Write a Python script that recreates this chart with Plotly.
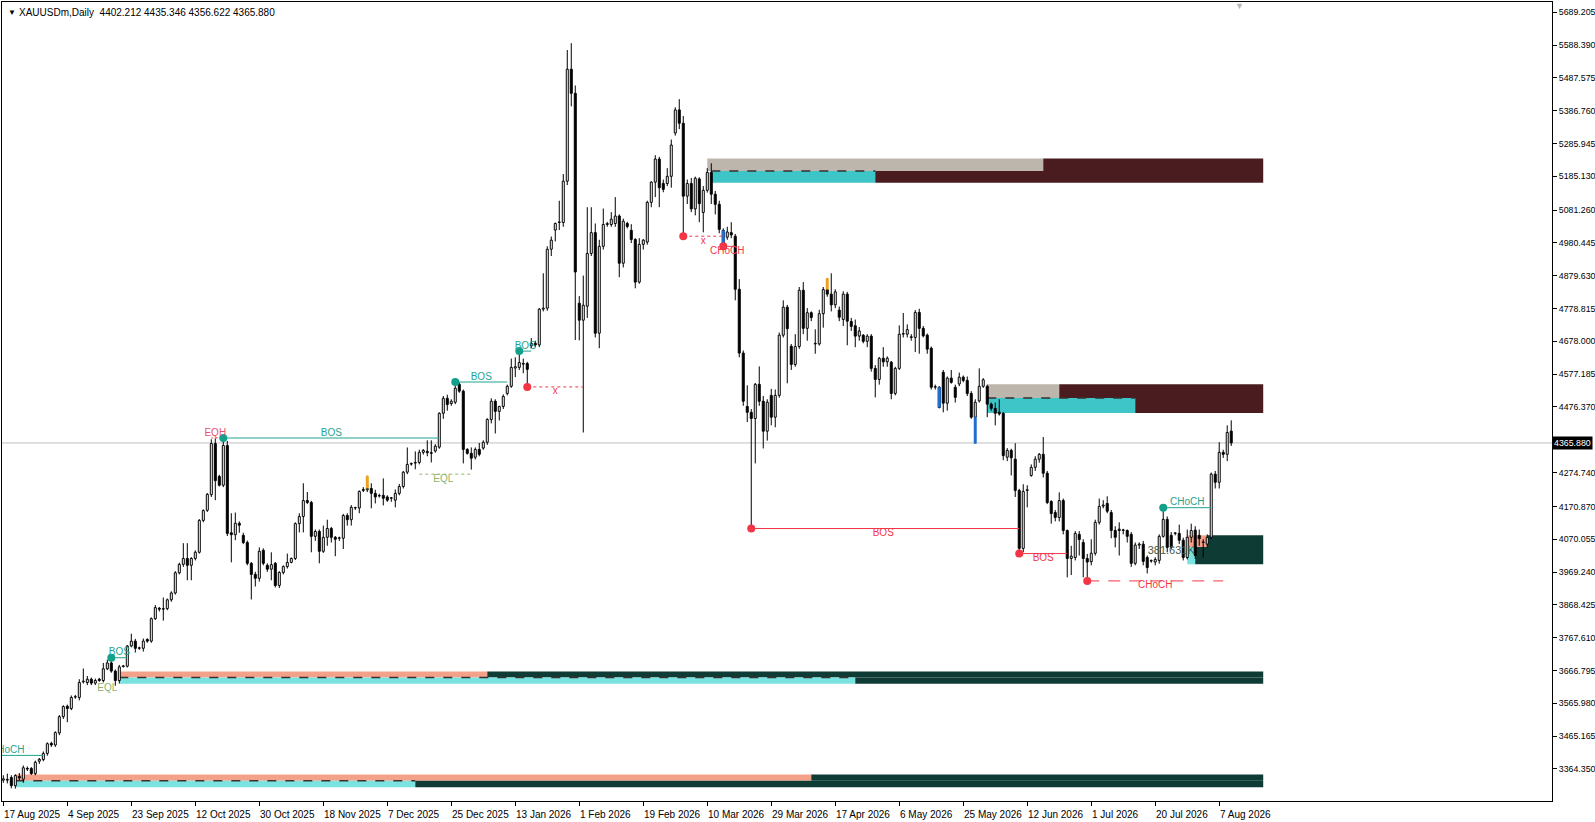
import plotly.graph_objects as go

# ---------------- data ----------------
opens = [3330,3332,3338,3313,3341,3333,3366,3366,3350,3388,3393,3412,3443,3438,3475,3525,3557,3550,3585,3584,
         3632,3630,3640,3628,3640,3636,3672,3690,3665,3636,3679,3680,3742,3757,3735,3735,3762,3757,3826,3858,
         3855,3857,3884,3905,3967,3993,4011,3990,4011,4030,4128,4159,4207,4364,4263,4236,4358,4090,4084,4119,
         4082,4060,3996,3962,3950,4036,3990,3978,3996,3928,3968,3986,3999,4011,4118,4140,4189,4183,4079,4094,
         4033,4076,4103,4076,4073,4073,4143,4130,4166,4166,4220,4222,4226,4211,4203,4205,4200,4196,4190,4211,
         4232,4276,4301,4304,4306,4337,4340,4336,4341,4353,4457,4503,4487,4491,4546,4525,4346,4334,4322,4346,
         4350,4368,4438,4494,4463,4478,4518,4540,4596,4598,4610,4610,4664,4672,4667,4777,4780,4961,5020,5043,
         5043,5170,5514,5440,4795,4743,4786,4948,5012,4703,4970,5037,5037,5040,5063,4918,5040,5019,4991,4860,
         4976,4983,5105,5167,5238,5163,5163,5185,5318,5389,5348,5124,5163,5085,5177,5074,5142,5197,5130,5099,
         5019,4998,5012,5001,4838,4642,4478,4460,4441,4546,4494,4402,4512,4445,4512,4697,4783,4663,4607,4662,
         4835,4718,4766,4670,4670,4763,4837,4823,4790,4774,4745,4823,4739,4726,4694,4697,4678,4694,4595,4561,
         4626,4615,4614,4518,4595,4700,4700,4692,4690,4767,4718,4697,4657,4537,4537,4583,4488,4565,4537,4547,
         4568,4558,4518,4445,4495,4540,4540,4485,4472,4460,4457,4322,4343,4316,4220,4042,4220,4266,4291,4316,
         4331,4273,4186,4152,4137,4189,4097,4011,4014,4085,4060,4011,4001,4027,4122,4172,4180,4152,4097,4101,
         4097,4097,4085,3996,4052,4055,4014,4003,4000,4005,4079,4131,4082,4088,4088,4067,4014,4076,4098,4082,
         4060,4055,4076,4270,4245,4337,4331,4402.212]
highs = [3345,3350,3345,3348,3352,3375,3372,3370,3390,3398,3418,3446,3448,3480,3530,3560,3562,3590,3592,3640,
         3673,3650,3645,3642,3644,3690,3700,3707,3670,3684,3684,3745,3780,3764,3740,3765,3766,3830,3868,3862,
         3891,3888,3910,3972,3998,4058,4058,4015,4036,4132,4162,4212,4377,4380,4268,4381,4372,4150,4152,4125,
         4090,4066,4000,3970,4045,4042,3996,4030,4000,3972,3990,4026,4014,4122,4150,4242,4215,4188,4100,4100,
         4112,4130,4108,4080,4078,4148,4150,4175,4170,4220,4230,4265,4242,4222,4210,4257,4205,4200,4223,4240,
         4280,4352,4306,4340,4345,4347,4374,4374,4362,4460,4510,4514,4500,4553,4552,4530,4350,4352,4352,4366,
         4374,4442,4503,4500,4480,4515,4545,4625,4629,4648,4625,4615,4688,4680,4780,4887,4970,5000,5043,5110,
         5192,5573,5594,5464,4817,4880,5090,5090,5040,4990,5086,5045,5075,5121,5068,5055,5045,5038,4995,4995,
         4992,5110,5170,5250,5245,5175,5210,5298,5397,5422,5370,5175,5180,5184,5182,5155,5210,5225,5140,5110,
         5025,5030,5044,5008,4869,4650,4543,4470,4550,4601,4510,4500,4532,4530,4705,4804,4790,4670,4700,4845,
         4860,4780,4770,4715,4775,4845,4872,4887,4838,4785,4832,4830,4750,4745,4722,4700,4700,4700,4605,4630,
         4660,4632,4618,4600,4727,4765,4730,4700,4774,4778,4725,4702,4662,4545,4540,4590,4570,4590,4545,4582,
         4573,4570,4525,4500,4595,4565,4545,4490,4490,4500,4460,4350,4348,4365,4225,4239,4236,4300,4325,4335,
         4384,4280,4190,4160,4214,4195,4100,4050,4095,4095,4070,4025,4070,4130,4195,4190,4202,4160,4110,4122,
         4102,4100,4092,4060,4060,4065,4020,4008,4015,4085,4168,4140,4092,4092,4115,4075,4100,4118,4110,4100,
         4070,4085,4275,4280,4368,4345,4420,4435.346]
lows = [3322,3320,3305,3304,3330,3322,3358,3346,3345,3380,3388,3405,3432,3432,3468,3518,3508,3545,3580,3575,
        3627,3622,3622,3622,3632,3630,3668,3660,3620,3627,3676,3676,3738,3722,3730,3725,3752,3752,3822,3848,
        3820,3852,3878,3900,3962,3985,3944,3944,4005,4026,4122,4154,4200,4190,4232,4230,4080,3999,4067,4090,
        4055,3990,3885,3925,3940,3990,3970,3944,3922,3920,3962,3980,3996,4006,4091,4091,4178,4030,4065,3996,
        4028,4050,4060,4018,4065,4040,4112,4112,4160,4150,4215,4215,4165,4180,4198,4174,4185,4185,4168,4205,
        4226,4270,4296,4285,4300,4330,4325,4306,4336,4348,4440,4465,4480,4485,4520,4303,4330,4284,4315,4325,
        4345,4360,4426,4395,4435,4470,4512,4535,4568,4590,4580,4538,4657,4660,4660,4770,4772,4940,4985,5020,
        5030,5158,5400,4682,4681,4398,4750,4940,4690,4657,4960,5030,5030,5030,4875,4905,5025,4980,4841,4855,
        4960,4975,5090,5121,5090,5136,5155,5150,5310,5330,5001,5100,5075,5065,5044,5013,5135,5100,5068,5010,
        4970,4990,4995,4804,4629,4480,4430,4103,4303,4480,4349,4373,4420,4414,4505,4690,4549,4590,4600,4655,
        4700,4680,4740,4640,4665,4720,4815,4770,4780,4740,4725,4666,4710,4660,4680,4672,4660,4585,4506,4545,
        4600,4600,4500,4512,4590,4690,4690,4680,4645,4640,4690,4640,4530,4530,4472,4460,4465,4548,4490,4540,
        4552,4510,4440,4364,4490,4535,4445,4465,4420,4450,4313,4310,4266,4200,4026,4030,4168,4262,4280,4305,
        4260,4178,4118,4125,4125,4085,3953,3960,4005,4020,3953,3942,3990,4020,4115,4165,4150,4073,4045,4020,
        4085,4060,3985,3990,4040,3990,3965,3998,3990,3995,4075,4030,4040,4082,4055,4005,4008,4060,4010,4050,
        4014,4045,4070,4226,4226,4320,4310,4356.622]
closes = [3334,3330,3313,3344,3337,3368,3364,3350,3385,3394,3412,3442,3438,3476,3525,3556,3550,3584,3586,3630,
          3634,3640,3628,3636,3636,3672,3690,3665,3636,3678,3681,3742,3757,3735,3736,3757,3757,3826,3860,3855,
          3857,3884,3905,3967,3993,4011,3990,4011,4030,4128,4158,4208,4364,4250,4236,4358,4088,4084,4119,4113,
          4060,3996,3962,3950,4033,3996,3978,3992,3928,3968,3986,3999,4011,4118,4140,4189,4183,4079,4094,4033,
          4076,4103,4076,4070,4073,4143,4130,4168,4166,4217,4223,4226,4211,4200,4203,4196,4190,4196,4211,4232,
          4276,4300,4301,4306,4337,4343,4336,4334,4356,4457,4503,4484,4494,4534,4525,4346,4334,4319,4346,4331,
          4368,4438,4494,4463,4478,4509,4540,4598,4600,4613,4608,4592,4672,4667,4777,4780,4961,4989,5040,5045,
          5170,5514,5440,4891,4743,4789,4948,5012,4703,4970,5037,5040,5053,5063,4918,5047,5031,4991,4860,4976,
          4989,5105,5167,5238,5150,5145,5185,5281,5389,5348,5124,5163,5085,5179,5101,5142,5197,5130,5099,5022,
          4979,5014,5005,4838,4642,4494,4460,4441,4546,4494,4402,4491,4445,4512,4697,4783,4717,4607,4662,4835,
          4718,4766,4751,4672,4763,4837,4823,4790,4830,4752,4823,4740,4724,4694,4710,4678,4694,4595,4561,4626,
          4615,4626,4518,4595,4700,4702,4714,4690,4767,4718,4695,4654,4537,4539,4475,4488,4565,4552,4506,4568,
          4558,4518,4445,4491,4540,4560,4485,4472,4457,4455,4327,4343,4320,4220,4042,4217,4222,4291,4316,4331,
          4273,4183,4149,4137,4189,4097,4011,4018,4088,4069,4011,4000,4027,4122,4171,4175,4156,4097,4076,4097,
          4099,4079,3996,4052,4055,4002,3983,4003,4008,4079,4131,4045,4045,4088,4067,4014,4076,4097,4020,4072,
          4062,4076,4270,4245,4337,4331,4398,4365.880]

date_ticks = [0,16,32,48,64,80,96,112,128,144,160,176,192,208,224,240,256,272,288,304]
date_labels = ["17 Aug 2025","4 Sep 2025","23 Sep 2025","12 Oct 2025","30 Oct 2025","18 Nov 2025",
               "7 Dec 2025","25 Dec 2025","13 Jan 2026","1 Feb 2026","19 Feb 2026","10 Mar 2026",
               "29 Mar 2026","17 Apr 2026","6 May 2026","25 May 2026","12 Jun 2026","1 Jul 2026",
               "20 Jul 2026","7 Aug 2026"]
price_ticks = [5689.205,5588.390,5487.575,5386.760,5285.945,5185.130,5081.260,4980.445,4879.630,
               4778.815,4678.000,4577.185,4476.370,4274.740,4170.870,4070.055,3969.240,3868.425,
               3767.610,3666.795,3565.980,3465.165,3364.350,3263.535]
current_price = 4365.880
title_text = "XAUUSDm,Daily  4402.212 4435.346 4356.622 4365.880"

# highlighted candles (price segments)
orange_idx = [91, 206]
orange_lo = [4226, 4837]
orange_hi = [4265, 4872]
blue_idx = [180, 234, 243]
blue_lo = [4979, 4475, 4364]
blue_hi = [5019, 4537, 4445]

# supply / demand zones
zone_x0 = [176, 260, 177, 218, 246, 264, 246, 283, 296, 301, 296, 298, 29, 121, 29, 213, 3, 202, 3, 103]
zone_x1 = [260, 315, 218, 315, 264, 315, 283, 315, 301, 315, 298, 315, 121, 315, 213, 315, 202, 315, 103, 315]
zone_y0 = [5201, 5201, 5165, 5165, 4504, 4504, 4458, 4458, 4046, 4046, 3993, 3993, 3645, 3645, 3626, 3626, 3328, 3328, 3308, 3308]
zone_y1 = [5240, 5240, 5201, 5201, 4546, 4546, 4504, 4504, 4082, 4082, 4046, 4046, 3664, 3664, 3645, 3645, 3347, 3347, 3328, 3328]
zone_kind = ["gray","maroon","cyan","maroon","gray","maroon","cyan","maroon",
             "salmon","dkgreen","lcyan","dkgreen","salmon","dkgreen","lcyan","dkgreen",
             "salmon","dkgreen","lcyan","dkgreen"]
mid_x0 = [177, 246, 29, 3]
mid_x1 = [218, 283, 213, 103]
mid_y = [5201, 4504, 3645, 3328]

# market structure lines
st_x0 = [52, 55, 113, 129, 131, 170, 180, 187, 254, 271, 290, 27, -8, 104]
st_x1 = [55, 109, 126, 132, 145, 180, 183, 254, 266, 305, 302, 31, 10, 117]
st_y = [4381, 4381, 4553, 4648, 4538, 5001, 4970, 4103, 4026, 3942, 4167, 3706, 3406, 4270]
st_kind = ["eqh","bull","bull","bull","bearx","bearx","bear","bear","bear","bearlong","bull","bull","bull","eql"]
lab_text = ["EQH","BOS","BOS","BOS","x","x","CHoCH","BOS","BOS","CHoCH","CHoCH","BOS","CHoCH","EQL","EQL"]
lab_x = [53, 82, 119.5, 130.5, 138, 175, 181, 220, 260, 288, 296, 29, 1, 110, 26]
lab_y = [4381, 4381, 4553, 4648, 4538, 5001, 4970, 4103, 4026, 3942, 4167, 3706, 3406, 4270, 3627]
lab_kind = ["eqh","bull","bull","bull","bear","bear","bear","bear","bear","bear","bull","bull","bull","eql","eql"]
lab_pos = ["top","top","top","top","bottom","bottom","bottom","bottom","bottom","bottom","top","top","top","bottom","bottom"]
dot_x = [55, 113, 129, 27, 290, 131, 170, 180, 187, 254, 271]
dot_y = [4381, 4553, 4648, 3706, 4167, 4538, 5001, 4970, 4103, 4026, 3942]
dot_kind = ["bull","bull","bull","bull","bull","bear","bear","bear","bear","bear","bear"]
vol_text = "381.631K"
vol_x, vol_y = 292, 4034

# ---------------- styles ----------------
FONT = "Liberation Sans"
C_TEAL = "#1fa391"
C_RED = "#f23645"
C_PINK = "#e8506a"
C_OLIVE = "#8fb36a"
zone_colors = {"gray": "#bdb6ac", "maroon": "#4a1c20", "cyan": "#3ec5c8", "salmon": "#f3a189",
               "dkgreen": "#0f3b35", "lcyan": "#7ae2df"}
st_style = {"eqh": (C_PINK, "2px,2px"), "bull": (C_TEAL, "solid"), "bearx": (C_RED, "3px,3px"),
            "bear": (C_RED, "solid"), "bearlong": (C_RED, "12px,9px"), "eql": (C_OLIVE, "3px,3px")}
lab_color = {"eqh": C_PINK, "bull": C_TEAL, "bear": C_RED, "eql": C_OLIVE}

n = len(closes)
idx = list(range(n))

fig = go.Figure()

# candle bodies
min_h = 1.5
up_x, up_b, up_h, dn_x, dn_b, dn_h = [], [], [], [], [], []
for i in idx:
    o, c = opens[i], closes[i]
    b = min(o, c)
    h = max(abs(c - o), min_h)
    if c >= o:
        up_x.append(i); up_b.append(b); up_h.append(h)
    else:
        dn_x.append(i); dn_b.append(b); dn_h.append(h)

fig.add_trace(go.Bar(x=up_x, base=up_b, y=up_h, width=0.5, marker=dict(color="white", line=dict(color="black", width=1)),
                     hoverinfo="skip", showlegend=False))
fig.add_trace(go.Bar(x=dn_x, base=dn_b, y=dn_h, width=0.5, marker=dict(color="black", line=dict(color="black", width=1)),
                     hoverinfo="skip", showlegend=False))

# wicks (split so they do not cross hollow bodies)
wx, wy = [], []
for i in idx:
    top = max(opens[i], closes[i])
    bot = min(opens[i], closes[i])
    if highs[i] > top:
        wx += [i, i, None]; wy += [top, highs[i], None]
    if lows[i] < bot:
        wx += [i, i, None]; wy += [lows[i], bot, None]
fig.add_trace(go.Scatter(x=wx, y=wy, mode="lines", line=dict(color="black", width=1),
                         hoverinfo="skip", showlegend=False))

# highlighted segments
for xs, lo, hi, col in [(orange_idx, orange_lo, orange_hi, "#f0a020"), (blue_idx, blue_lo, blue_hi, "#1f6fd0")]:
    sx, sy = [], []
    for i, a, b in zip(xs, lo, hi):
        sx += [i, i, None]; sy += [a, b, None]
    fig.add_trace(go.Scatter(x=sx, y=sy, mode="lines", line=dict(color=col, width=3),
                             hoverinfo="skip", showlegend=False))

shapes = []
shapes.append(dict(type="line", xref="paper", x0=0, x1=1, yref="y", y0=current_price, y1=current_price,
                   line=dict(color="#c0c0c0", width=1), layer="below"))
for x0, x1, y0, y1, k in zip(zone_x0, zone_x1, zone_y0, zone_y1, zone_kind):
    shapes.append(dict(type="rect", xref="x", yref="y", x0=x0, x1=x1, y0=y0, y1=y1,
                       fillcolor=zone_colors[k], line=dict(width=0), layer="below"))
for x0, x1, y in zip(mid_x0, mid_x1, mid_y):
    shapes.append(dict(type="line", xref="x", yref="y", x0=x0, x1=x1, y0=y, y1=y,
                       line=dict(color="#3a3030", width=1.5, dash="dash"), layer="below"))

# structure lines
for x0, x1, y, k in zip(st_x0, st_x1, st_y, st_kind):
    col, dash = st_style[k]
    fig.add_trace(go.Scatter(x=[x0, x1], y=[y, y], mode="lines", line=dict(color=col, width=1, dash=dash),
                             hoverinfo="skip", showlegend=False, cliponaxis=True))

# dots
for k, col in [("bull", "#12a08a"), ("bear", C_RED)]:
    xs = [x for x, kk in zip(dot_x, dot_kind) if kk == k]
    ys = [y for y, kk in zip(dot_y, dot_kind) if kk == k]
    fig.add_trace(go.Scatter(x=xs, y=ys, mode="markers", marker=dict(color=col, size=8),
                             hoverinfo="skip", showlegend=False))

# structure labels
for t, x, y, k, p in zip(lab_text, lab_x, lab_y, lab_kind, lab_pos):
    fig.add_trace(go.Scatter(x=[x], y=[y], mode="text", text=[t], textposition=p + " center",
                             textfont=dict(family=FONT, size=10, color=lab_color[k]),
                             hoverinfo="skip", showlegend=False, cliponaxis=True))

fig.add_trace(go.Scatter(x=[vol_x], y=[vol_y], mode="text", text=[vol_text], textposition="middle center",
                         textfont=dict(family=FONT, size=11, color="#4b5a4a"), hoverinfo="skip", showlegend=False))

annotations = []
for t, x in zip(date_labels, date_ticks):
    annotations.append(dict(x=x, xref="x", y=0, yref="paper", text=t, showarrow=False, xanchor="left",
                            yanchor="top", xshift=-1, yshift=-6,
                            font=dict(family=FONT, size=10, color="black")))
annotations.append(dict(x=1, xref="paper", y=current_price, yref="y", text="4365.880", showarrow=False,
                        xanchor="left", yanchor="middle", xshift=0, bgcolor="black",
                        font=dict(family=FONT, size=8.8, color="white"), borderpad=1))
annotations.append(dict(x=0, xref="paper", y=1, yref="paper", text="▼", showarrow=False, xanchor="left",
                        yanchor="top", xshift=4, yshift=-4, font=dict(family=FONT, size=8, color="black")))
annotations.append(dict(x=0, xref="paper", y=1, yref="paper", text=title_text, showarrow=False, xanchor="left",
                        yanchor="top", xshift=15, yshift=-3, font=dict(family=FONT, size=10, color="black")))
annotations.append(dict(x=309, xref="x", y=1, yref="paper", text="▼", showarrow=False, xanchor="center",
                        yanchor="top", yshift=3, font=dict(family=FONT, size=9, color="#b8b8b8")))

fig.update_layout(
    width=1595, height=822,
    margin=dict(l=2, r=43, t=2, b=21, autoexpand=False),
    paper_bgcolor="white", plot_bgcolor="white",
    barmode="overlay", showlegend=False,
    shapes=shapes, annotations=annotations,
    font=dict(family=FONT, size=10, color="black"),
    xaxis=dict(range=[-0.33, 387.2], tickvals=date_ticks, showticklabels=False, ticks="outside", ticklen=4,
               tickcolor="black", showline=True, linecolor="black", linewidth=1, mirror=True,
               showgrid=False, zeroline=False, fixedrange=True, automargin=False),
    yaxis=dict(range=[3265.9, 5720.5], side="right", tickvals=price_ticks,
               ticktext=[f"{v:.3f}" for v in price_ticks], ticks="outside", ticklen=4, tickcolor="black",
               ticklabelstandoff=0,
               showline=True, linecolor="black", linewidth=1, mirror=True, showgrid=False, zeroline=False,
               tickfont=dict(family=FONT, size=8.8, color="black"), fixedrange=True, automargin=False),
)

fig.write_html("out.html", config={"displayModeBar": False},
               post_script="document.body.style.margin='0px';document.body.style.overflow='hidden';")
